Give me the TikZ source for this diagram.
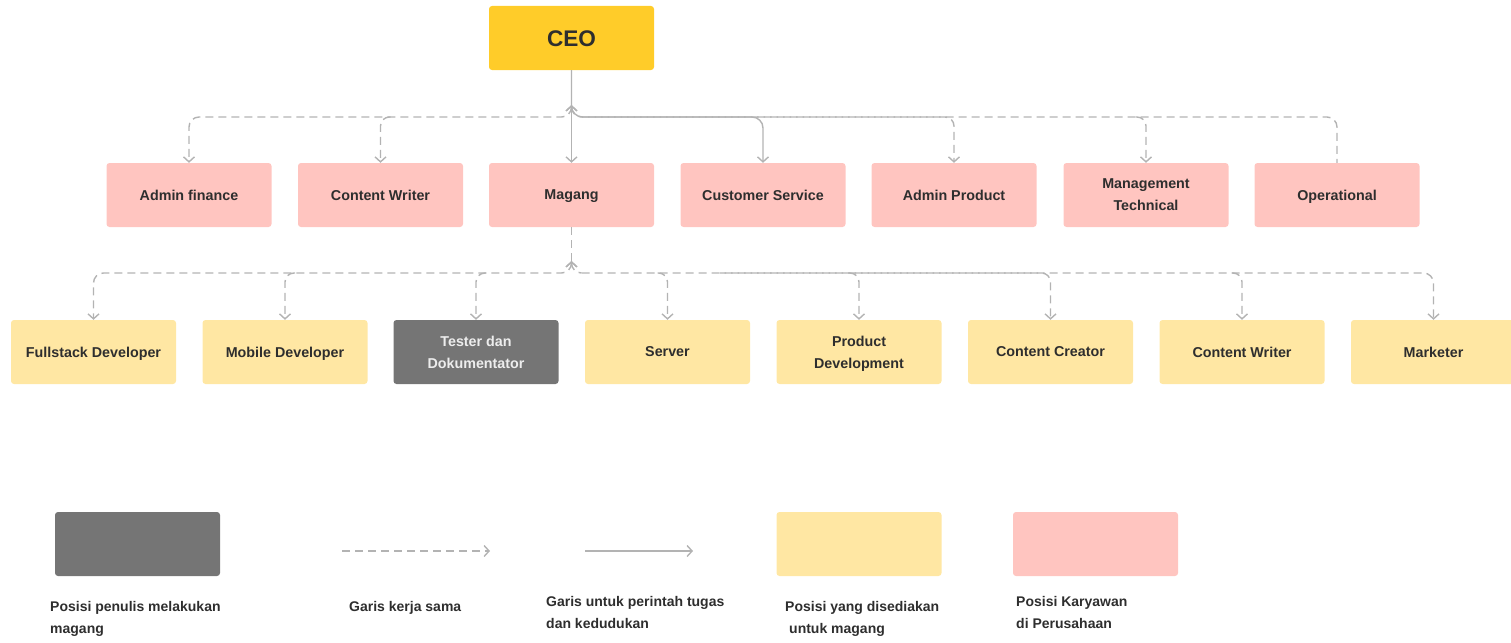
\documentclass[tikz,border=0pt]{standalone}
\usepackage{fontspec}
\setmainfont{Liberation Sans}
\usetikzlibrary{arrows.meta}
\definecolor{ceoc}{HTML}{FFCC29}
\definecolor{pinkb}{HTML}{FFC5C0}
\definecolor{yelb}{HTML}{FFE7A3}
\definecolor{grayb}{HTML}{757575}
\definecolor{linec}{HTML}{B3B3B3}
\definecolor{txt}{HTML}{2E2E2E}
\begin{document}
\begin{tikzpicture}[x=1pt,y=-1pt,
  box/.style={rounded corners=3pt, minimum width=165pt, minimum height=64pt, inner sep=0pt, align=center, text depth=0pt, font=\fontsize{14.3}{22}\selectfont\bfseries, text=txt},
  emp/.style={box, fill=pinkb},
  intern/.style={box, fill=yelb},
  me/.style={box, fill=grayb, text=white!93!black},
  lnk/.style={draw=linec, line width=1.4pt},
  dl/.style={lnk, dash pattern=on 8pt off 5pt},
  tip/.style={-{Straight Barb[length=5pt,width=11pt]}},
  tips/.style={{Straight Barb[length=5pt,width=11pt]}-{Straight Barb[length=5pt,width=11pt]}},
  stip/.style={{Straight Barb[length=5pt,width=11pt]}-},
  legtxt/.style={anchor=north west, inner sep=0pt, align=left, font=\fontsize{14}{22}\selectfont\bfseries, text=txt}
]
\useasboundingbox (0,0) rectangle (1511,642);

% CEO
\node[box, fill=ceoc, font=\fontsize{22.6}{26}\selectfont\bfseries] (ceo) at (571.5,38) {\raisebox{-2pt}{CEO}};

% Row 1
\node[emp] (af) at (189,195) {Admin finance};
\node[emp] (cw) at (380.5,195) {Content Writer};
\node[emp] (mag) at (571.5,195) {Magang};
\node[emp] (cs) at (763,195) {Customer Service};
\node[emp] (ap) at (954,195) {Admin Product};
\node[emp] (mt) at (1146,195) {Management\\Technical};
\node[emp] (op) at (1337,195) {Operational};

% Row 2
\node[intern] (fs) at (93.5,352) {Fullstack Developer};
\node[intern] (md) at (285,352) {Mobile Developer};
\node[me] (td) at (476,352) {Tester dan\\Dokumentator};
\node[intern] (sv) at (667.5,352) {Server};
\node[intern] (pd) at (859,352) {Product\\Development};
\node[intern] (cc) at (1050.5,352) {Content Creator};
\node[intern] (cw2) at (1242,352) {Content Writer};
\node[intern] (mk) at (1433.5,352) {Marketer};

% Row 1 connectors
\coordinate (b1) at (571.5,117);
\coordinate (s1) at (571.5,105);
\coordinate (r1) at (581.5,117);
\draw[lnk, tip] (ceo.south) -- (mag.north);
\draw[lnk, tip, rounded corners=11pt] (ceo.south) -- (b1) -- (b1 -| cs) -- (cs.north);
\draw[dl, tips, rounded corners=10pt] (s1) -- (b1) -- (b1 -| af) -- (af.north);
\draw[dl, tip, rounded corners=9pt] (390.5,117) -- (b1 -| cw) -- (cw.north);
\draw[dl, stip, rounded corners=10pt] (s1) -- (b1) -- (r1);
\draw[dl, rounded corners=10pt] (r1) -- (b1 -| op) -- (op.north);
\draw[dl, dash phase=6.5pt, tip, rounded corners=9pt] (r1) -- (b1 -| ap) -- (ap.north);
\draw[dl, tip, rounded corners=9pt] (1136,117) -- (b1 -| mt) -- (mt.north);

% Row 2 connectors
\coordinate (b2) at (571.5,273);
\coordinate (s2) at (571.5,261);
\coordinate (r2) at (581.5,273);
\draw[dl] (mag.south) -- (s2);
\draw[dl, tips, rounded corners=10pt] (s2) -- (b2) -- (b2 -| fs) -- (fs.north);
\draw[dl, tip, rounded corners=9pt] (295,273) -- (b2 -| md) -- (md.north);
\draw[dl, tip, rounded corners=9pt] (486,273) -- (b2 -| td) -- (td.north);
\draw[dl, stip, rounded corners=10pt] (s2) -- (b2) -- (r2);
\draw[dl, tip, rounded corners=10pt] (r2) -- (b2 -| mk) -- (mk.north);
\draw[dl, tip, rounded corners=9pt] (657.5,273) -- (b2 -| sv) -- (sv.north);
\draw[dl, tip, rounded corners=9pt] (849,273) -- (b2 -| pd) -- (pd.north);
\draw[dl, dash phase=2pt, tip, rounded corners=9pt] (720,273) -- (b2 -| cc) -- (cc.north);
\draw[dl, tip, rounded corners=9pt] (1232,273) -- (b2 -| cw2) -- (cw2.north);

% Legend
\node[me] (lg1) at (137.5,544) {};
\coordinate (la1) at (342,551);
\coordinate (la2) at (490,551);
\draw[dl, tip] (la1) -- (la2);
\coordinate (lb1) at (585,551);
\coordinate (lb2) at (693,551);
\draw[lnk, tip] (lb1) -- (lb2);
\node[intern] (lg4) at (859,544) {};
\node[emp] (lg5) at (1095.5,544) {};

\node[legtxt] (t1) at (50,601) {Posisi penulis melakukan\\magang};
\node[legtxt] (t2) at (349,601) {Garis kerja sama};
\node[legtxt] (t3) at (546,596) {Garis untuk perintah tugas\\dan kedudukan};
\node[legtxt] (t4) at (785,601) {Posisi yang disediakan\\\hspace*{4pt}untuk magang};
\node[legtxt] (t5) at (1016,596) {Posisi Karyawan\\di Perusahaan};
\end{tikzpicture}
\end{document}
